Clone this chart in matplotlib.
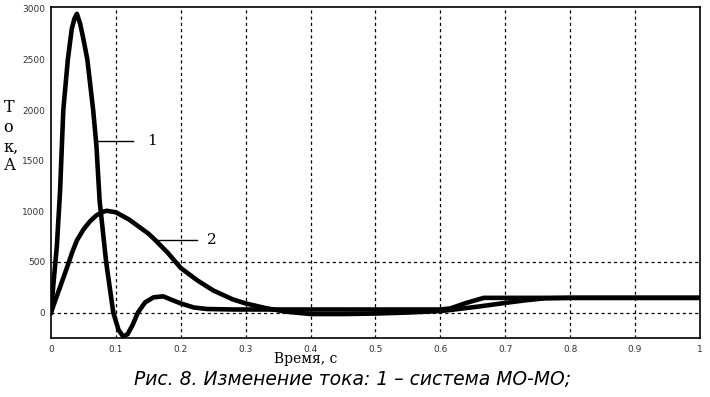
import matplotlib.pyplot as plt
import numpy as np

# curve 1 (MO-MO)
t1 = [0, 0.004, 0.009, 0.014, 0.019, 0.026, 0.032, 0.036, 0.04, 0.045, 0.05, 0.056,
      0.065, 0.07, 0.075, 0.085, 0.096, 0.104, 0.111, 0.118, 0.126, 0.134, 0.145,
      0.158, 0.173, 0.188, 0.2, 0.22, 0.24, 0.28, 0.35, 0.45, 0.55, 0.6, 0.615,
      0.64, 0.667, 0.7, 0.8, 0.9, 1.0]
i1 = [0, 300, 650, 1200, 2000, 2500, 2800, 2900, 2950, 2850, 2700, 2500,
      2000, 1650, 1100, 500, 0, -170, -235, -215, -120, 0, 100,
      150, 160, 120, 90, 50, 35, 30, 30, 30, 30, 30, 40,
      95, 145, 145, 145, 145, 145]

# curve 2
t2 = [0, 0.01, 0.02, 0.025, 0.033, 0.04, 0.05, 0.06, 0.07, 0.08, 0.086, 0.1,
      0.12, 0.15, 0.16, 0.18, 0.2, 0.225, 0.25, 0.28, 0.3, 0.33, 0.36, 0.4,
      0.45, 0.5, 0.55, 0.6, 0.615, 0.66, 0.7, 0.73, 0.76, 0.8, 0.9, 1.0]
i2 = [0, 180, 360, 450, 600, 713, 820, 900, 960, 995, 1005, 990,
      920, 780, 720, 590, 440, 320, 218, 130, 90, 45, 10, -15,
      -15, -10, 0, 15, 25, 60, 95, 120, 140, 145, 145, 145]

xticks = [0, 0.1, 0.2, 0.3, 0.4, 0.5, 0.6, 0.7, 0.8, 0.9, 1]
xlabels = ['0', '0.1', '0.2', '0.3', '0.4', '0.5', '0.6', '0.7', '0.8', '0.9', '1']
yticks = [0, 500, 1000, 1500, 2000, 2500, 3000]


def main():
    fig = plt.figure(figsize=(7.1, 3.97), dpi=100)
    ax = fig.add_axes([0.0718, 0.149, 0.914, 0.834])

    ax.plot(t1, i1, color='black', lw=3.3, solid_joinstyle='round')
    ax.plot(t2, i2, color='black', lw=3.3, solid_joinstyle='round')

    ax.set_xlim(0, 1)
    ax.set_ylim(-250, 3020)
    ax.set_xticks(xticks)
    ax.set_xticklabels(xlabels)
    ax.set_yticks(yticks)
    ax.tick_params(length=0, labelsize=6.5, colors='#333333')
    ax.tick_params(axis='x', pad=5)
    ax.tick_params(axis='y', pad=4)

    # grid: vertical lines everywhere, horizontal only at 0 and 500
    for x in xticks[1:-1]:
        ax.axvline(x, color='black', lw=0.9, ls=(0, (2.5, 2.5)), zorder=0)
    for y in [0, 500]:
        ax.axhline(y, color='black', lw=0.9, ls=(0, (2.5, 2.5)), zorder=0)
    for s in ax.spines.values():
        s.set_linewidth(1.2)

    # curve labels
    ax.plot([0.071, 0.126], [1690, 1690], color='black', lw=1)
    ax.text(0.148, 1690, '1', fontsize=11, family='DejaVu Serif', va='center')
    ax.plot([0.16, 0.225], [720, 720], color='black', lw=1)
    ax.text(0.24, 720, '2', fontsize=11, family='DejaVu Serif', va='center')

    # y label stacked letters
    for ch, yp in zip(['Т', 'о', 'к,', 'А'], [0.728, 0.678, 0.628, 0.583]):
        fig.text(0.005, yp, ch, fontsize=11.5, family='DejaVu Serif', va='center')

    fig.text(0.431, 0.095, 'Время, с', fontsize=10, family='DejaVu Serif',
             ha='center', va='center')
    fig.text(0.496, 0.043, 'Рис. 8. Изменение тока: 1 – система МО-МО;',
             fontsize=13.5, family=['Liberation Sans Narrow', 'DejaVu Sans'],
             style='italic', ha='center', va='center')

    plt.savefig('out.png', dpi=100)
    plt.close()


if __name__ == '__main__':
    main()
